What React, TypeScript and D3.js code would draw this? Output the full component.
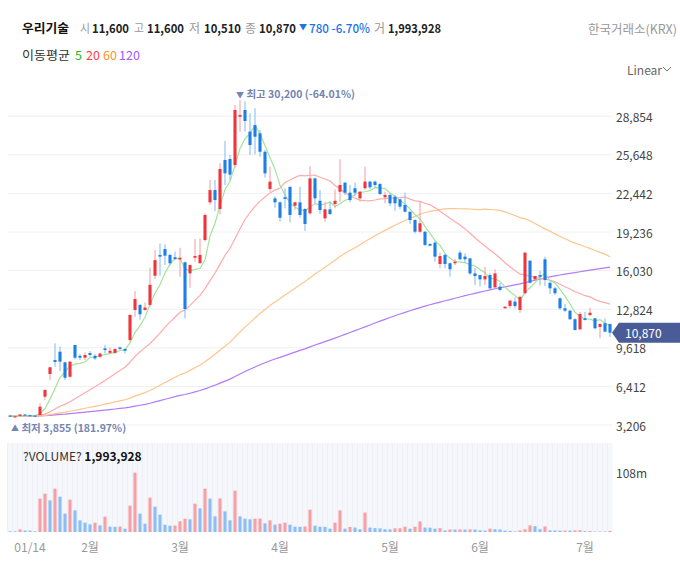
import React from 'react'
import * as d3 from 'd3'

// 일봉 OHLC (원)
const opens = [
  3990, 3900, 3960, 4080, 4020, 3990, 4036, 5558, 7442, 8600,
  9295, 8414, 7214, 9850, 8950, 8795, 9180, 8950, 8870, 9570,
  9200, 9200, 9650, 9520, 10267, 12760, 13180, 12760, 13180, 15605,
  17330, 17820, 17330, 17140, 16960, 16720, 15800, 17100, 16640, 18570,
  21700, 22720, 21150, 25220, 25300, 24800, 28810, 29370, 27570, 28120,
  27430, 25900, 22810, 22030, 21700, 22120, 22990, 21420, 21700, 21150,
  20790, 23690, 21830, 20370, 21120, 21560, 22580, 23330, 22500, 22870,
  22030, 22870, 23420, 23420, 23220, 22120, 22310, 22170, 21950, 21480,
  20920, 20230, 19260, 19260, 18240, 18350, 16580, 17330, 16640, 16640,
  17520, 17190, 17050, 15800, 15660, 15300, 15660, 14640, 14690, 12900,
  13090, 13450, 12760, 14150, 16850, 15300, 15660, 16970, 15020, 14560,
  13730, 12900, 12700, 11990, 11150, 12070, 12340, 12070, 11350, 11660,
  11600
]
const highs = [
  4050, 3980, 4120, 4120, 4060, 4030, 5008, 6170, 8048, 9995,
  9708, 8462, 8520, 9870, 9100, 9230, 9350, 9100, 9220, 9850,
  9650, 9570, 9700, 9570, 12400, 14330, 13250, 13380, 16280, 17740,
  18280, 18210, 17440, 17600, 17930, 16780, 16520, 18650, 18700, 20780,
  23555, 23555, 24940, 26790, 25630, 29780, 30200, 30100, 29100, 29510,
  27700, 26050, 24660, 22200, 21780, 22870, 22990, 21750, 22990, 21200,
  24700, 23750, 22720, 21750, 21750, 22780, 25270, 23400, 23140, 23330,
  22650, 24660, 23500, 23500, 23300, 22590, 22450, 22300, 22000, 22500,
  20920, 20300, 21750, 19300, 18300, 18500, 17520, 17450, 16700, 17000,
  17700, 17460, 17050, 16250, 15660, 16350, 15800, 16140, 15000, 13080,
  13600, 13800, 13860, 17600, 16900, 15580, 16000, 17190, 15100, 14700,
  13800, 13250, 12760, 12070, 12600, 12600, 12960, 12070, 11650, 12050,
  11600
]
const lows = [
  3900, 3855, 3940, 3990, 3960, 3930, 3990, 5282, 6945, 8048,
  7690, 6945, 7130, 8650, 8600, 8600, 8900, 8620, 8740, 9150,
  9090, 9120, 9450, 9150, 10100, 12180, 11960, 12700, 13010, 15330,
  15600, 16500, 16500, 16900, 15520, 12070, 14610, 16770, 16640, 18440,
  21500, 20980, 20710, 23140, 23555, 24580, 27570, 27570, 25630, 25690,
  25490, 23750, 22580, 21250, 20090, 21200, 20040, 21060, 20420, 19320,
  20650, 21620, 20730, 20090, 20650, 21200, 21750, 22310, 21700, 22200,
  21750, 22750, 22800, 22950, 22300, 21620, 21400, 21000, 21150, 20860,
  19900, 19120, 19180, 18080, 18050, 16770, 16220, 16220, 15520, 16500,
  16900, 16700, 15660, 14830, 14720, 14830, 14480, 14560, 14350, 12870,
  12900, 12900, 12530, 14100, 14950, 15250, 14800, 14750, 14090, 14000,
  12760, 12600, 11930, 11050, 11100, 11880, 12260, 11150, 10410, 10900,
  10510
]
const closes = [
  3940, 3930, 4080, 4020, 3980, 3960, 4726, 6112, 8000, 8440,
  8465, 7130, 8465, 8795, 8795, 9020, 9020, 8740, 9140, 9430,
  9370, 9520, 9520, 9370, 12345, 13670, 12400, 12960, 14850, 16900,
  17190, 17270, 16640, 17000, 17100, 12840, 16500, 17240, 17330, 20650,
  22720, 21890, 24470, 24110, 24000, 29370, 28950, 28455, 26460, 27150,
  25900, 24110, 23420, 21700, 20420, 21980, 20650, 21700, 20650, 19900,
  23690, 22030, 21060, 21120, 20730, 21830, 23140, 22500, 21890, 22500,
  22580, 23420, 22950, 23140, 22390, 22310, 21620, 21620, 21340, 20920,
  20230, 19260, 19960, 18160, 18100, 17190, 17240, 16580, 16140, 16770,
  16970, 16970, 15800, 15580, 15300, 15580, 14560, 15800, 14420, 13030,
  13530, 13090, 13860, 17520, 15020, 15580, 15520, 15250, 14560, 14150,
  12900, 12700, 11990, 11100, 12430, 11930, 12530, 11240, 11600, 10960,
  10870
]
// 거래량 (백만 주)
const volumes = [
  1.3, 1.2, 4.8, 2.6, 2.4, 1.2, 60, 69, 57, 78,
  63.6, 33, 58.2, 39, 21, 16.8, 13.8, 16.8, 12, 27.6,
  9.6, 9.4, 9.8, 6, 47.4, 106.8, 33, 15, 61.8, 45.6,
  31.2, 13.2, 11.4, 11.6, 19.2, 24, 22.8, 51, 42.6, 78,
  60, 28.2, 60.5, 37.2, 21, 74.4, 28.2, 24, 22.8, 24,
  24.2, 15.6, 21, 13.2, 15, 16.8, 13.2, 9.6, 9.4, 9.8,
  40.2, 11.4, 9.6, 9.4, 6, 16.8, 39, 6, 9, 8,
  5, 35, 8, 7, 6.5, 5, 4.8, 6.6, 6.8, 9.6,
  6, 9.6, 19, 8, 7.8, 6, 7, 3, 4.5, 4.4,
  4.6, 4.5, 4.8, 4.5, 3, 2.5, 6, 5, 4.6, 2.5,
  2, 1, 3, 5, 12, 10.5, 5, 10, 3, 2.8,
  2.6, 2.7, 2.5, 2.9, 3.2, 1.5, 1.8, 0.8, 1, 0.9,
  1.99
]

const priceTicks = [3206, 6412, 9618, 12824, 16030, 19236, 22442, 25648, 28854]
const monthTicks = [4, 16, 34, 54, 76, 94, 115]
const monthLabels = ['01/14', '2월', '3월', '4월', '5월', '6월', '7월']
const maPeriods = [5, 20, 60, 120]
const maLineColors = ['#a3e39c', '#ffabab', '#ffc58f', '#b27cf5']
const maLabelColors = ['#22b422', '#ff4040', '#ff9326', '#a259ff']
// 차트 왼쪽 끝에서 이동평균선들이 모두 모이는 수준 (구간 이전 종가)
const PRIOR_CLOSE = 3950

const UP = '#f0343c'
const UP_WICK = '#f49a9d'
const DOWN = '#1d7fe6'
const DOWN_WICK = '#80b8f3'
const FONT = "'Noto Sans CJK KR', 'Noto Sans', sans-serif"

const fmt = d3.format(',')

// 헤더 항목: [텍스트, x, 폭, 종류]
const headerItems: [string, number, number, string][] = [
  ['시', 80, 10, 'label'],
  ['11,600', 92, 37, 'value'],
  ['고', 134, 10, 'label'],
  ['11,600', 147, 37, 'value'],
  ['저', 189, 11, 'label'],
  ['10,510', 204, 37, 'value'],
  ['종', 245, 11, 'label'],
  ['10,870', 259, 37, 'value'],
  ['780 -6.70%', 309, 61, 'change'],
  ['거', 374, 11, 'label'],
  ['1,993,928', 388, 53, 'value']
]

export default function App() {
  const width = 680
  const height = 582
  const n = closes.length
  const idx = d3.range(n)

  const x = d3.scaleBand<number>().domain(idx).range([7.5, 612.5])
  const bw = x.bandwidth()
  const cx = (i: number) => (x(i) as number) + bw / 2

  const y = d3.scaleLinear().domain([3206, 28854]).range([425, 116.2])
  const yVol = d3.scaleLinear().domain([0, 108]).range([532, 472])

  const maSeries = maPeriods.map(p =>
    idx.map(i => {
      let s = 0
      for (let j = i - p + 1; j <= i; j++) s += j < 0 ? PRIOR_CLOSE : closes[j]
      return s / p
    })
  )
  const line = d3.line<number>()
    .x((_, i) => cx(i))
    .y(d => y(d))

  const maxI = d3.maxIndex(highs)
  const minI = d3.minIndex(lows)
  const last = closes[n - 1]
  const lastY = y(last)

  const bodyW = bw * 0.62

  return (
    <svg width={width} height={height} style={{ position: 'absolute', left: 0, top: 0, fontFamily: FONT }}>
      <rect width={width} height={height} fill="#fff" />

      {/* 헤더 */}
      <g fontSize={12.5} dominantBaseline="central">
        <text x={22} y={27} fontWeight={700} fill="#111" textLength={47} lengthAdjust="spacingAndGlyphs">우리기술</text>
        {headerItems.map(([t, hx, w, kind], k) => (
          <text key={k} x={hx} y={27} textLength={w} lengthAdjust="spacingAndGlyphs"
            fontWeight={kind === 'label' ? 400 : kind === 'change' ? 500 : 700}
            fill={kind === 'label' ? '#999' : kind === 'change' ? '#1a73e8' : '#222'}>{t}</text>
        ))}
        <text x={299} y={26} fontSize={8} fill="#1a73e8">▼</text>
        <text x={677} y={28} textAnchor="end" fill="#999" textLength={89} lengthAdjust="spacingAndGlyphs">한국거래소(KRX)</text>

        <text x={22} y={54} fill="#333" textLength={48} lengthAdjust="spacingAndGlyphs">이동평균</text>
        {maPeriods.map((p, k) => (
          <text key={p} x={[75, 86, 103, 119][k]} y={54} fill={maLabelColors[k]}>{p}</text>
        ))}

        <text x={627} y={69} fontSize={12} fill="#666">Linear</text>
        <polyline points="663,67 667,71 671,67" fill="none" stroke="#777" strokeWidth={1} />
      </g>

      {/* 가격 격자 */}
      {priceTicks.map(t => (
        <g key={t}>
          <line x1={8} x2={612} y1={y(t)} y2={y(t)} stroke="#eef0f4" />
          <text x={616} y={y(t)} fontSize={12} fill="#444" dominantBaseline="central">{fmt(t)}</text>
        </g>
      ))}

      {/* 이동평균선 */}
      {maSeries.slice().reverse().map((s, k) => (
        <path key={k} d={line(s) || ''} fill="none"
          stroke={maLineColors[maSeries.length - 1 - k]} strokeWidth={1.2} />
      ))}

      {/* 캔들 */}
      {idx.map(i => {
        const up = closes[i] >= opens[i]
        const top = y(Math.max(opens[i], closes[i]))
        const bot = y(Math.min(opens[i], closes[i]))
        return (
          <g key={i}>
            <line x1={cx(i)} x2={cx(i)} y1={y(highs[i])} y2={y(lows[i])}
              stroke={up ? UP_WICK : DOWN_WICK} strokeWidth={1} />
            <rect x={cx(i) - bodyW / 2} width={bodyW} y={top} height={Math.max(1.2, bot - top)}
              fill={up ? UP : DOWN} />
          </g>
        )
      })}

      {/* 최고 / 최저 */}
      <text x={cx(maxI) - 4} y={y(highs[maxI]) - 6} fontSize={10.5} fontWeight={600}
        fill="#7385b3" dominantBaseline="central">
        <tspan fontSize={8}>▼</tspan> 최고 {fmt(highs[maxI])} (-64.01%)
      </text>
      <text x={cx(minI) - 4} y={y(lows[minI]) + 10} fontSize={10.5} fontWeight={600}
        fill="#7385b3" dominantBaseline="central">
        <tspan fontSize={8}>▲</tspan> 최저 {fmt(lows[minI])} (181.97%)
      </text>

      {/* 현재가 태그 */}
      <polygon
        points={`612,${lastY} 619,${lastY - 10} 680,${lastY - 10} 680,${lastY + 10} 619,${lastY + 10}`}
        fill="#4a5c98" />
      <text x={625} y={lastY} fontSize={12} fill="#fff" dominantBaseline="central">{fmt(last)}</text>

      {/* 거래량 패널 */}
      <rect x={7.5} y={443} width={605} height={89} fill="#f6f7fb" />
      {idx.map(i => (
        <line key={i} x1={x(i) as number} x2={x(i) as number} y1={443} y2={532} stroke="#edf0f6" />
      ))}
      {idx.map(i => {
        const up = i > 0 && volumes[i] >= volumes[i - 1]
        return (
          <rect key={i} x={cx(i) - bodyW / 2} width={bodyW} y={yVol(volumes[i])}
            height={532 - yVol(volumes[i])} fill={up ? '#f6a0a4' : '#8cbef6'} />
        )
      })}
      <text x={23} y={455} fontSize={12} fill="#333" dominantBaseline="central">
        ?VOLUME? <tspan fontWeight={700} fill="#111">{fmt(1993928)}</tspan>
      </text>
      <text x={616} y={472} fontSize={12} fill="#444" dominantBaseline="central">108m</text>

      {/* 날짜 축 */}
      {monthTicks.map((t, k) => (
        <text key={t} x={cx(t)} y={546} fontSize={12} fill="#999" textAnchor="middle"
          dominantBaseline="central">{monthLabels[k]}</text>
      ))}
    </svg>
  )
}
